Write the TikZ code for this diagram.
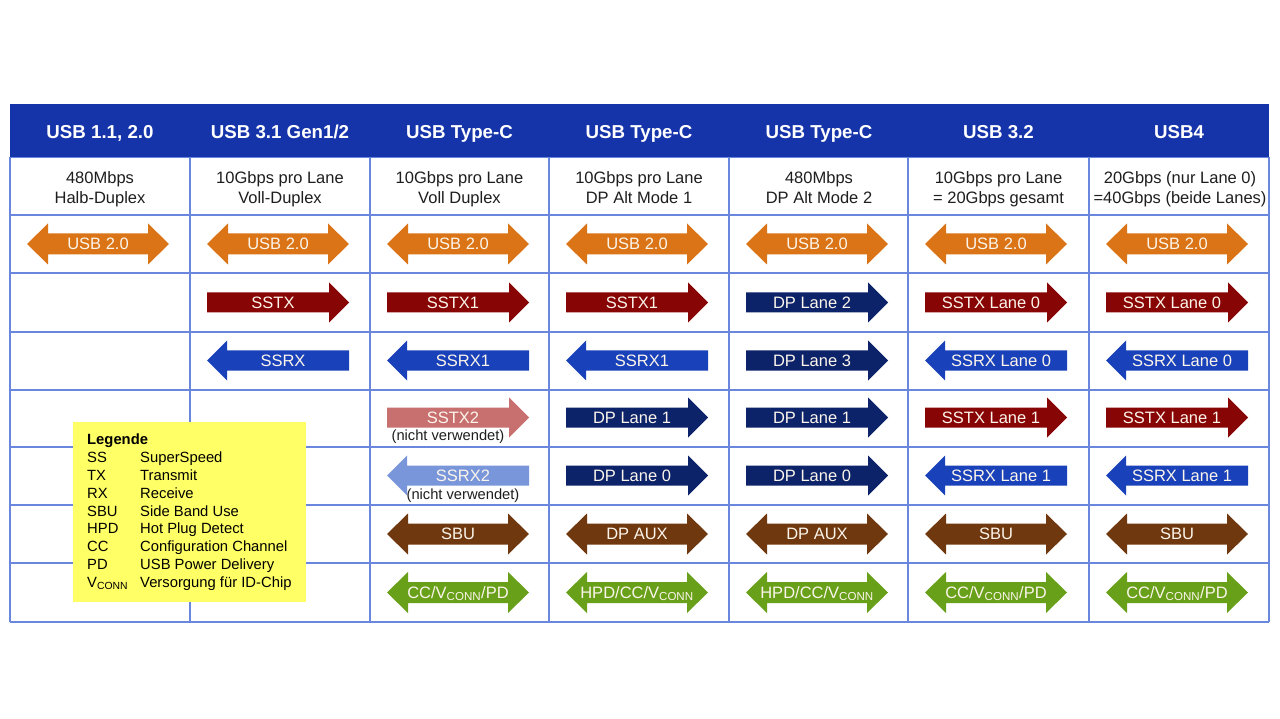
\documentclass[tikz,border=0pt]{standalone}
\usepackage{fontspec}
\setmainfont{Liberation Sans}
\definecolor{hdrblue}{RGB}{22,52,170}
\definecolor{gridc}{RGB}{105,135,220}
\definecolor{cOrange}{RGB}{218,116,22}
\definecolor{cRed}{RGB}{135,5,5}
\definecolor{cBlue}{RGB}{25,65,185}
\definecolor{cNavy}{RGB}{12,35,105}
\definecolor{cBrown}{RGB}{112,56,14}
\definecolor{cGreen}{RGB}{104,160,26}
\definecolor{cLRed}{RGB}{200,112,112}
\definecolor{cLBlue}{RGB}{122,150,218}
\definecolor{cYellow}{RGB}{255,255,102}
\definecolor{arrtxt}{RGB}{252,245,235}
\definecolor{txt}{RGB}{30,30,30}
\newcommand{\ArrR}[5]{\begin{scope}[shift={(#2,#3)}]
  \fill[#4] (0,-10) -- (122,-10) -- (122,-20) -- (142,0) -- (122,20) -- (122,10) -- (0,10) -- cycle;
  \node[arrtext] (#1) at (66,0) {#5};
\end{scope}}
\newcommand{\ArrL}[5]{\begin{scope}[shift={(#2,#3)}]
  \fill[#4] (142,-10) -- (20,-10) -- (20,-20) -- (0,0) -- (20,20) -- (20,10) -- (142,10) -- cycle;
  \node[arrtext] (#1) at (76,0) {#5};
\end{scope}}
\newcommand{\ArrD}[5]{\begin{scope}[shift={(#2,#3)}]
  \fill[#4] (0,0) -- (21,-20.5) -- (21,-10.5) -- (121,-10.5) -- (121,-20.5) -- (142,0) -- (121,20.5) -- (121,10.5) -- (21,10.5) -- (21,20.5) -- cycle;
  \node[arrtext] (#1) at (71,0) {#5};
\end{scope}}
\begin{document}
\begin{tikzpicture}[x=1pt,y=-1pt,
  arrtext/.style={text=arrtxt, font=\fontsize{16.5}{18}\selectfont, inner sep=0pt, text height=11.8pt, text depth=0pt, anchor=center},
  hdrtext/.style={text=white, font=\bfseries\fontsize{18.7}{20}\selectfont, inner sep=0pt, text height=13.4pt, text depth=0pt},
  subtext/.style={text=txt, font=\fontsize{16.5}{20}\selectfont, inner sep=0pt, text height=11.8pt, text depth=0pt},
  note/.style={text=txt, font=\fontsize{14.7}{16}\selectfont, inner sep=0pt, text height=10.5pt, text depth=0pt},
  legtext/.style={text=black, font=\fontsize{14.8}{18}\selectfont, anchor=west, inner sep=0pt, text height=10.6pt, text depth=0pt},
  gridline/.style={draw=gridc, line width=1.3pt}]
\useasboundingbox (0,0) rectangle (1280,719);
\fill[white] (0,0) rectangle (1280,719);
% grid
\foreach \x in {10,190,370,549,729,908,1089,1269} \draw[gridline] (\x,157) -- (\x,622);
\foreach \y in {157,215,273,332,390,447,505,563,622} \draw[gridline] (10,\y) -- (1269,\y);
% header
\fill[hdrblue] (10,104) rectangle (1269,157);
\node[hdrtext] (h1) at (100,132) {USB 1.1, 2.0};
\node[hdrtext] (h2) at (280,132) {USB 3.1 Gen1/2};
\node[hdrtext] (h3) at (459.5,132) {USB Type-C};
\node[hdrtext] (h4) at (639,132) {USB Type-C};
\node[hdrtext] (h5) at (819,132) {USB Type-C};
\node[hdrtext] (h6) at (998.5,132) {USB 3.2};
\node[hdrtext] (h7) at (1179,132) {USB4};
% speed row
\node[subtext] (s1a) at (100,177.5) {480Mbps};
\node[subtext] (s1b) at (100,197.5) {Halb-Duplex};
\node[subtext] (s2a) at (280,177.5) {10Gbps pro Lane};
\node[subtext] (s2b) at (280,197.5) {Voll-Duplex};
\node[subtext] (s3a) at (459.5,177.5) {10Gbps pro Lane};
\node[subtext] (s3b) at (459.5,197.5) {Voll Duplex};
\node[subtext] (s4a) at (639,177.5) {10Gbps pro Lane};
\node[subtext] (s4b) at (639,197.5) {DP Alt Mode 1};
\node[subtext] (s5a) at (819,177.5) {480Mbps};
\node[subtext] (s5b) at (819,197.5) {DP Alt Mode 2};
\node[subtext] (s6a) at (998.5,177.5) {10Gbps pro Lane};
\node[subtext] (s6b) at (998.5,197.5) {= 20Gbps gesamt};
\node[subtext] (s7a) at (1180,177.5) {20Gbps (nur Lane 0)};
\node[subtext] (s7b) at (1180,197.5) {=40Gbps (beide Lanes)};
% row USB 2.0
\ArrD{u1}{27}{244}{cOrange}{USB 2.0}
\ArrD{u2}{207}{244}{cOrange}{USB 2.0}
\ArrD{u3}{387}{244}{cOrange}{USB 2.0}
\ArrD{u4}{566}{244}{cOrange}{USB 2.0}
\ArrD{u5}{746}{244}{cOrange}{USB 2.0}
\ArrD{u6}{925}{244}{cOrange}{USB 2.0}
\ArrD{u7}{1106}{244}{cOrange}{USB 2.0}
% row TX
\ArrR{t2}{207}{302.5}{cRed}{SSTX}
\ArrR{t3}{387}{302.5}{cRed}{SSTX1}
\ArrR{t4}{566}{302.5}{cRed}{SSTX1}
\ArrR{t5}{746}{302.5}{cNavy}{DP Lane 2}
\ArrR{t6}{925}{302.5}{cRed}{SSTX Lane 0}
\ArrR{t7}{1106}{302.5}{cRed}{SSTX Lane 0}
% row RX
\ArrL{r2}{207}{360.5}{cBlue}{SSRX}
\ArrL{r3}{387}{360.5}{cBlue}{SSRX1}
\ArrL{r4}{566}{360.5}{cBlue}{SSRX1}
\ArrR{r5}{746}{360.5}{cNavy}{DP Lane 3}
\ArrL{r6}{925}{360.5}{cBlue}{SSRX Lane 0}
\ArrL{r7}{1106}{360.5}{cBlue}{SSRX Lane 0}
% row TX2
\ArrR{x3}{387}{417.5}{cLRed}{SSTX2}
\node[note] (n3a) at (448,435.5) {(nicht verwendet)};
\ArrR{x4}{566}{417.5}{cNavy}{DP Lane 1}
\ArrR{x5}{746}{417.5}{cNavy}{DP Lane 1}
\ArrR{x6}{925}{417.5}{cRed}{SSTX Lane 1}
\ArrR{x7}{1106}{417.5}{cRed}{SSTX Lane 1}
% row RX2
\ArrL{y3}{387}{475.5}{cLBlue}{SSRX2}
\node[note] (n3b) at (463,494.5) {(nicht verwendet)};
\ArrR{y4}{566}{475.5}{cNavy}{DP Lane 0}
\ArrR{y5}{746}{475.5}{cNavy}{DP Lane 0}
\ArrL{y6}{925}{475.5}{cBlue}{SSRX Lane 1}
\ArrL{y7}{1106}{475.5}{cBlue}{SSRX Lane 1}
% row SBU
\ArrD{b3}{387}{534}{cBrown}{SBU}
\ArrD{b4}{566}{534}{cBrown}{DP AUX}
\ArrD{b5}{746}{534}{cBrown}{DP AUX}
\ArrD{b6}{925}{534}{cBrown}{SBU}
\ArrD{b7}{1106}{534}{cBrown}{SBU}
% row CC
\ArrD{c3}{387}{592.5}{cGreen}{CC/V\textsubscript{CONN}/PD}
\ArrD{c4}{566}{592.5}{cGreen}{HPD/CC/V\textsubscript{CONN}}
\ArrD{c5}{746}{592.5}{cGreen}{HPD/CC/V\textsubscript{CONN}}
\ArrD{c6}{925}{592.5}{cGreen}{CC/V\textsubscript{CONN}/PD}
\ArrD{c7}{1106}{592.5}{cGreen}{CC/V\textsubscript{CONN}/PD}
% legend
\fill[cYellow] (73,422) rectangle (306,602);
\node[legtext, font=\bfseries\fontsize{14.8}{18}\selectfont] (lg) at (87,439) {Legende};
\node[legtext] (l1a) at (87,457) {SS};   \node[legtext] (l1b) at (140,457) {SuperSpeed};
\node[legtext] (l2a) at (87,475) {TX};   \node[legtext] (l2b) at (140,475) {Transmit};
\node[legtext] (l3a) at (87,493) {RX};   \node[legtext] (l3b) at (140,493) {Receive};
\node[legtext] (l4a) at (87,511) {SBU};  \node[legtext] (l4b) at (140,511) {Side Band Use};
\node[legtext] (l5a) at (87,528.5) {HPD};  \node[legtext] (l5b) at (140,528.5) {Hot Plug Detect};
\node[legtext] (l6a) at (87,546) {CC};   \node[legtext] (l6b) at (140,546) {Configuration Channel};
\node[legtext] (l7a) at (87,564) {PD};   \node[legtext] (l7b) at (140,564) {USB Power Delivery};
\node[legtext] (l8a) at (87,582) {V\textsubscript{CONN}}; \node[legtext] (l8b) at (140,582) {Versorgung für ID-Chip};
\end{tikzpicture}
\end{document}
